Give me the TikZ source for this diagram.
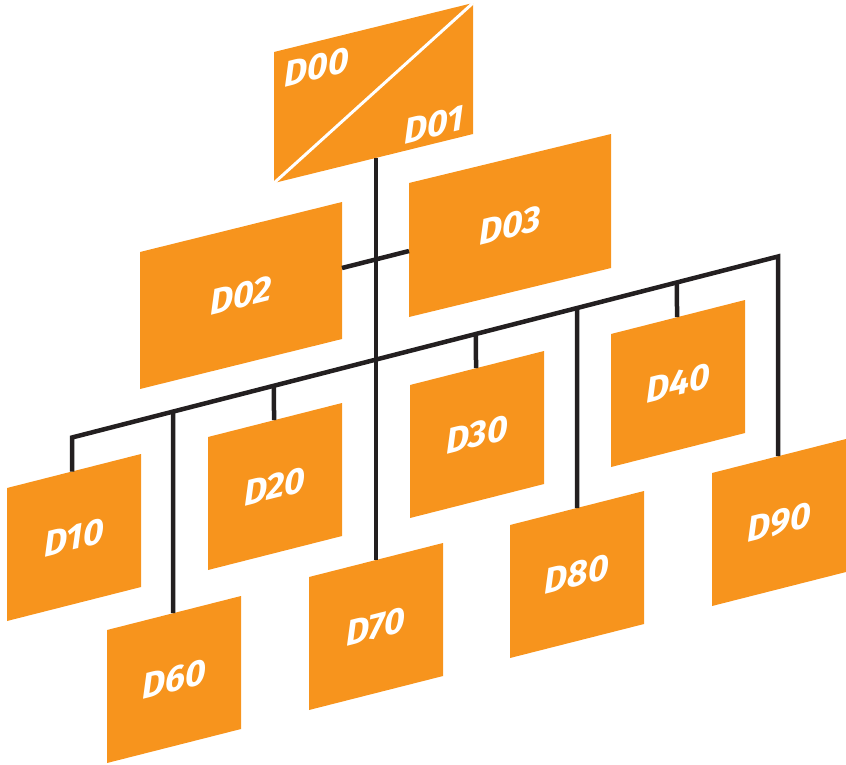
\documentclass[tikz,border=0pt]{standalone}
\usepackage{fontspec}
\newfontfamily\lblfont{Fira Sans}
\definecolor{boxorange}{HTML}{F7941D}
\definecolor{linedark}{HTML}{231F20}
\tikzset{
  boxfill/.style={fill=boxorange},
  lbl/.style={text=white, font=\lblfont\bfseries\itshape\fontsize{36}{40}\selectfont, yslant=0.25, inner sep=0pt},
  conn/.style={draw=linedark, line width=4.5pt, line join=miter},
  divider/.style={draw=white, line width=3pt}
}
% #1 name, #2 left x, #3 top-left y, #4 width, #5 rise, #6 height
\newcommand\pgram[6]{%
  \fill[boxfill] (#2,#3) coordinate (#1-tl) -- ++(#4,-#5) coordinate (#1-tr)
    -- ++(0,#6) coordinate (#1-br) -- ++(-#4,#5) coordinate (#1-bl) -- cycle;
  \coordinate (#1-c) at ({#2+#4/2},{#3-#5/2+#6/2});
}
\begin{document}
\begin{tikzpicture}[x=1pt,y=-1pt]
\useasboundingbox (0,0) rectangle (846,764);
% boxes
\pgram{b00}{274}{52}{199}{49}{131}
\pgram{b02}{140}{252}{202}{50}{137}
\pgram{b03}{409}{183}{202}{49}{134}
\pgram{b10}{7}{488}{134}{34}{133}
\pgram{b20}{208}{437}{134}{34}{133}
\pgram{b30}{410}{385}{134}{34}{133}
\pgram{b40}{611}{334}{134}{34}{133}
\pgram{b60}{107}{630}{134}{34}{133}
\pgram{b70}{309}{577}{134}{34}{133}
\pgram{b80}{510}{525}{134}{34}{133}
\pgram{b90}{712}{473}{134}{34}{133}
\draw[divider] (b00-bl) -- (b00-tr);
% labels
\node[lbl] (t00) at (317,67) {D00};
\node[lbl] (t01) at (434,125) {D01};
\node[lbl] (t02) at (b02-c) {D02};
\node[lbl] (t03) at (b03-c) {D03};
\node[lbl] (t10) at (b10-c) {D10};
\node[lbl] (t20) at (b20-c) {D20};
\node[lbl] (t30) at (b30-c) {D30};
\node[lbl] (t40) at (b40-c) {D40};
\node[lbl] (t60) at (b60-c) {D60};
\node[lbl] (t70) at (b70-c) {D70};
\node[lbl] (t80) at (b80-c) {D80};
\node[lbl] (t90) at (b90-c) {D90};
% connection points
\coordinate (p01) at (376,158);
\coordinate (p70) at (376,560);
\coordinate (p02) at (342,268);
\coordinate (p03) at (409,251);
\coordinate (busL) at (72,437.5);
\coordinate (busR) at (778,256.5);
\coordinate (p10) at (72,471.5);
\coordinate (p60) at (173,613.2);
\coordinate (p20) at (274,420.2);
\coordinate (p30) at (476,368.2);
\coordinate (p80) at (577,508);
\coordinate (p40) at (677,317.2);
\coordinate (p90) at (778,456.2);
\path (busL) -- (busR)
  coordinate[pos=0.1431] (q60)
  coordinate[pos=0.2861] (q20)
  coordinate[pos=0.5722] (q30)
  coordinate[pos=0.7153] (q80)
  coordinate[pos=0.8569] (q40);
% connectors
\draw[conn] (p01) -- (p70);
\draw[conn] (p02) -- (p03);
\draw[conn] (p10) -- (busL) -- (busR) -- (p90);
\draw[conn] (q60) -- (p60);
\draw[conn] (q20) -- (p20);
\draw[conn] (q30) -- (p30);
\draw[conn] (q80) -- (p80);
\draw[conn] (q40) -- (p40);
\end{tikzpicture}
\end{document}
